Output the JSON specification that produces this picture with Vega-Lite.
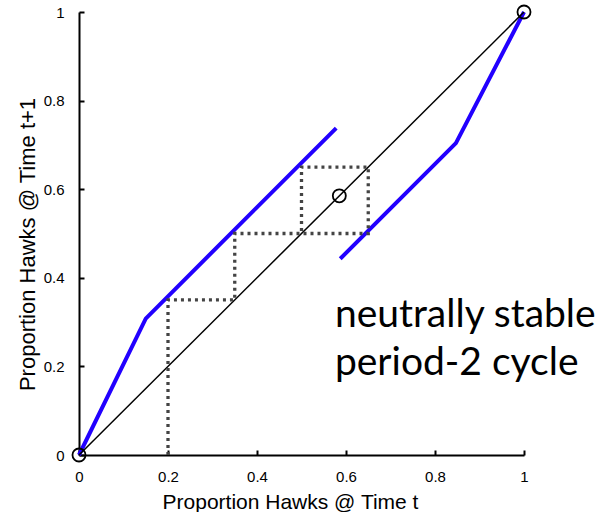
{
  "$schema": "https://vega.github.io/schema/vega-lite/v6.json",
  "width": 445,
  "height": 443,
  "autosize": {"type": "none"},
  "padding": {"left": 79, "top": 12, "right": 76, "bottom": 57},
  "background": "white",
  "config": {"view": {"stroke": null}},
  "datasets": {
    "map": [
      {"seg": "a", "i": 0, "x": 0, "y": 0},
      {"seg": "a", "i": 1, "x": 0.15, "y": 0.308},
      {"seg": "a", "i": 2, "x": 0.578, "y": 0.738},
      {"seg": "b", "i": 0, "x": 0.587, "y": 0.443},
      {"seg": "b", "i": 1, "x": 0.847, "y": 0.704},
      {"seg": "b", "i": 2, "x": 1, "y": 1}
    ],
    "diag": [
      {"x": 0, "y": 0},
      {"x": 1, "y": 1}
    ],
    "cobweb": [
      {"i": 0, "x": 0.2, "y": 0},
      {"i": 1, "x": 0.2, "y": 0.35},
      {"i": 2, "x": 0.35, "y": 0.35},
      {"i": 3, "x": 0.35, "y": 0.5},
      {"i": 4, "x": 0.65, "y": 0.5},
      {"i": 5, "x": 0.65, "y": 0.65},
      {"i": 6, "x": 0.5, "y": 0.65},
      {"i": 7, "x": 0.5, "y": 0.5}
    ],
    "fixed": [
      {"x": 0, "y": 0},
      {"x": 0.585, "y": 0.585},
      {"x": 1, "y": 1}
    ],
    "note": [
      {"x": 0.575, "y": 0.29, "text": "neutrally stable"},
      {"x": 0.575, "y": 0.18, "text": "period-2 cycle"}
    ]
  },
  "layer": [
    {
      "data": {"name": "map"},
      "mark": {"type": "line", "color": "#2200ff", "strokeWidth": 4, "strokeCap": "butt", "clip": false},
      "encoding": {
        "x": {
          "field": "x", "type": "quantitative",
          "scale": {"domain": [0, 1], "nice": false, "zero": false},
          "axis": {
            "title": "Proportion Hawks @ Time t",
            "values": [0, 0.2, 0.4, 0.6, 0.8, 1],
            "format": "~g",
            "grid": false,
            "domainColor": "black", "domainWidth": 2,
            "tickColor": "black", "tickWidth": 2, "tickSize": -5,
            "labelFont": "Liberation Sans", "labelFontSize": 15, "labelColor": "black",
            "labelPadding": 19, "labelFlush": false,
            "titleFont": "Liberation Sans", "titleFontSize": 21, "titleFontWeight": "normal", "titleColor": "black",
            "titlePadding": 7, "titleX": 211
          }
        },
        "y": {
          "field": "y", "type": "quantitative",
          "scale": {"domain": [0, 1], "nice": false, "zero": false},
          "axis": {
            "title": "Proportion Hawks @ Time t+1",
            "values": [0, 0.2, 0.4, 0.6, 0.8, 1],
            "format": "~g",
            "grid": false,
            "domainColor": "black", "domainWidth": 2,
            "tickColor": "black", "tickWidth": 2, "tickSize": -5,
            "labelFont": "Liberation Sans", "labelFontSize": 15, "labelColor": "black",
            "labelPadding": 20, "labelFlush": false,
            "titleFont": "Liberation Sans", "titleFontSize": 22, "titleFontWeight": "normal", "titleColor": "black",
            "titlePadding": 4, "titleY": 232
          }
        },
        "detail": {"field": "seg"},
        "order": {"field": "i"}
      }
    },
    {
      "data": {"name": "diag"},
      "mark": {"type": "line", "color": "black", "strokeWidth": 1.5},
      "encoding": {
        "x": {"field": "x", "type": "quantitative"},
        "y": {"field": "y", "type": "quantitative"}
      }
    },
    {
      "data": {"name": "cobweb"},
      "mark": {"type": "line", "color": "#444444", "strokeWidth": 3.3, "strokeDash": [3, 4], "strokeCap": "butt"},
      "encoding": {
        "x": {"field": "x", "type": "quantitative"},
        "y": {"field": "y", "type": "quantitative"},
        "order": {"field": "i"}
      }
    },
    {
      "data": {"name": "fixed"},
      "mark": {"type": "point", "shape": "circle", "filled": false, "color": "black", "strokeWidth": 1.8, "size": 170, "opacity": 1, "clip": false},
      "encoding": {
        "x": {"field": "x", "type": "quantitative"},
        "y": {"field": "y", "type": "quantitative"}
      }
    },
    {
      "data": {"name": "note"},
      "mark": {"type": "text", "align": "left", "baseline": "alphabetic", "font": "Lato", "fontSize": 39, "color": "black", "clip": false},
      "encoding": {
        "x": {"field": "x", "type": "quantitative"},
        "y": {"field": "y", "type": "quantitative"},
        "text": {"field": "text"}
      }
    }
  ]
}
